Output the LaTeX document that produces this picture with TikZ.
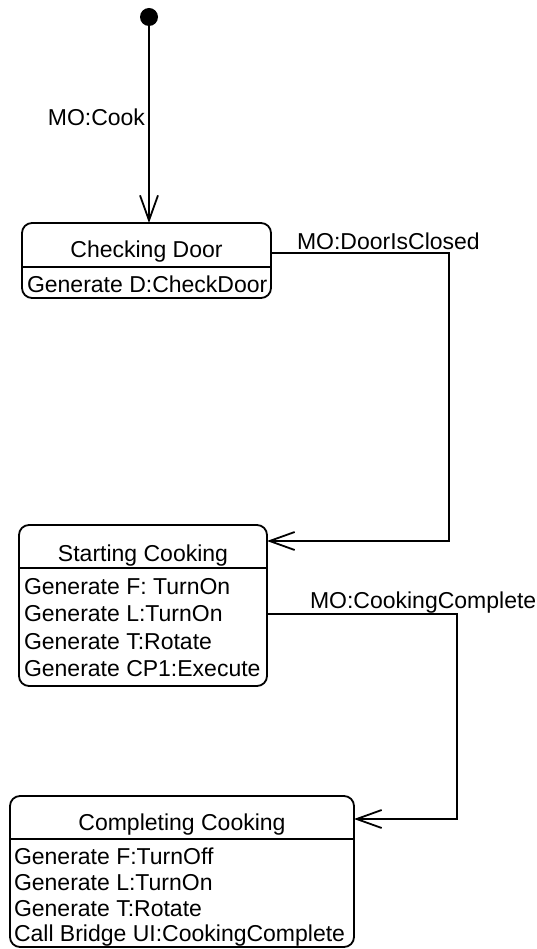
\documentclass[tikz,border=0pt]{standalone}
\usepackage{fontspec}
\setmainfont{Liberation Sans}
\usetikzlibrary{arrows.meta}
\begin{document}
\begin{tikzpicture}[x=1pt,y=-1pt,
  every node/.style={font=\fontsize{23}{27}\selectfont, inner sep=0pt, outer sep=0pt},
  statebox/.style={draw, line width=1.8pt, rounded corners=10pt, anchor=north west},
  divider/.style={line width=1.8pt},
  trans/.style={line width=1.8pt, -{Straight Barb[length=25pt,width=18pt]}},
  initial/.style={circle, fill=black, minimum size=18pt},
  label/.style={anchor=base west},
  body/.style={anchor=base west}
]
\useasboundingbox (0,0) rectangle (536,949);

% initial pseudo-state
\node[initial] (init) at (149,17) {};

% Checking Door
\node[statebox, minimum width=249pt, minimum height=75pt] (cd) at (22,223) {};
\draw[divider] ([yshift=-44pt]cd.north west) -- ([yshift=-44pt]cd.north east);
\node[anchor=base] (cdt) at (146.5,258) {Checking Door};
\node[body] (cd1) at (27,292) {Generate D:CheckDoor};

% Starting Cooking
\node[statebox, minimum width=248pt, minimum height=161pt] (sc) at (19,525) {};
\draw[divider] ([yshift=-43pt]sc.north west) -- ([yshift=-43pt]sc.north east);
\node[anchor=base] (sct) at (143,561) {Starting Cooking};
\node[body] (sc1) at (24,594) {Generate F: TurnOn};
\node[body] (sc2) at (24,621.5) {Generate L:TurnOn};
\node[body] (sc3) at (24,649) {Generate T:Rotate};
\node[body] (sc4) at (24,676.5) {Generate CP1:Execute};

% Completing Cooking
\node[statebox, minimum width=344pt, minimum height=151pt] (cc) at (10,796) {};
\draw[divider] ([yshift=-43pt]cc.north west) -- ([yshift=-43pt]cc.north east);
\node[anchor=base] (cct) at (182,830) {Completing Cooking};
\node[body] (cc1) at (14,864) {Generate F:TurnOff};
\node[body] (cc2) at (14,890) {Generate L:TurnOn};
\node[body] (cc3) at (14,916) {Generate T:Rotate};
\node[body] (cc4) at (14,941) {Call Bridge UI:CookingComplete};

% connector corners
\coordinate (c1) at (449,253);
\coordinate (c2) at (449,541);
\coordinate (c3) at (457,614);
\coordinate (c4) at (457,819);

% transitions
\draw[trans] (init) -- (init |- cd.north);
\node[anchor=base east] (l0) at (145,126) {MO:Cook};

\draw[trans] (cd.east |- c1) -- (c1) -- (c2) -- (sc.east |- c2);
\node[label] (l1) at (297,250) {MO:DoorIsClosed};

\draw[trans] (sc.east |- c3) -- (c3) -- (c4) -- (cc.east |- c4);
\node[label] (l2) at (310,608) {MO:CookingComplete};
\end{tikzpicture}
\end{document}
